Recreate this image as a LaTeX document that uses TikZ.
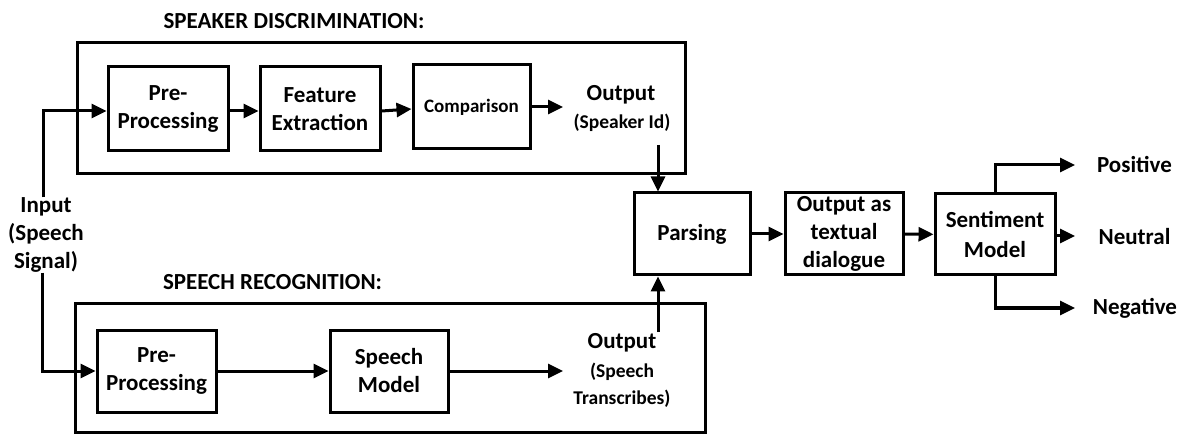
\documentclass[tikz,border=0pt]{standalone}
\usepackage{fontspec}
\setmainfont{Carlito}
\usetikzlibrary{arrows.meta}
\begin{document}
\begin{tikzpicture}[x=1pt,y=-1pt,
  every node/.style={inner sep=0pt, font=\bfseries\fontsize{23}{28}\selectfont, align=center},
  box/.style={draw, line width=3pt, minimum width=120pt, minimum height=84pt},
  outer/.style={draw, line width=3pt},
  title/.style={font=\bfseries\fontsize{23}{26}\selectfont},
  small/.style={font=\bfseries\fontsize{19.5}{27}\selectfont},
  arr/.style={line width=3pt, -{Triangle[length=15pt,width=14pt]}}]
\useasboundingbox (0,0) rectangle (1182,435);
% ---------- speaker discrimination ----------
\node[title] (t1) at (294,21) {SPEAKER DISCRIMINATION:};
\node[outer, minimum width=608pt, minimum height=131pt] (sd) at (381,108.5) {};
\node[box] (pre1) at (168,109) {Pre-\\Processing};
\node[box] (feat) at (320,109) {Feature\\Extraction};
\node[box, minimum width=117pt, font=\bfseries\fontsize{19}{22}\selectfont] (comp) at (471.5,107) {Comparison};
\node (o1a) at (621,95) {Output};
\node[small] (o1b) at (622,123) {(Speaker Id)};
\coordinate (o1in) at (563,107);
\coordinate (o1out) at (658,145);
% ---------- input ----------
\node (in) at (46,235) {Input\\(Speech\\Signal)};
% ---------- speech recognition ----------
\node[title] (t2) at (272.5,282) {SPEECH RECOGNITION:};
\node[outer, minimum width=630pt, minimum height=128pt] (sr) at (390,368) {};
\node[box, minimum width=119pt, minimum height=82pt] (pre2) at (156.5,371) {Pre-\\Processing};
\node[box, minimum width=118pt, minimum height=82pt] (spm) at (389,371) {Speech\\Model};
\node (o2a) at (622,343) {Output};
\node[small] (o2b) at (622,385.5) {(Speech\\Transcribes)};
\coordinate (o2in) at (563,371);
\coordinate (o2out) at (658,332);
% ---------- right part ----------
\node[box, minimum width=116pt, minimum height=82pt] (parse) at (692,234) {Parsing};
\node[box, minimum width=118pt, minimum height=82pt] (otd) at (844,234) {Output as\\textual\\dialogue};
\node[box, minimum width=120pt, minimum height=81pt, font=\bfseries\fontsize{23}{30}\selectfont] (sent) at (995,234.5) {Sentiment\\Model};
\node (pos) at (1134.5,165) {Positive};
\node (neu) at (1134.5,237) {Neutral};
\node (neg) at (1135,308) {Negative};
\coordinate (posin) at (1075,165);
\coordinate (neuin) at (1075,236);
\coordinate (negin) at (1075,308);
% ---------- connectors ----------
\draw[arr] ([xshift=-3pt]in.north) |- ([yshift=-2pt]pre1.west);
\draw[arr] ([xshift=-4pt]in.south) |- (pre2.west);
\draw[arr] ([yshift=-2pt]pre1.east) -- ([yshift=-2pt]feat.west);
\draw[arr] ([yshift=-2pt]feat.east) -- ([yshift=-2pt]comp.west);
\draw[arr] (comp) -- (o1in);
\draw[arr] (o1out) -- (o1out |- parse.north);
\draw[arr] (pre2) -- (spm);
\draw[arr] (spm) -- (o2in);
\draw[arr] (o2out) -- (o2out |- parse.south);
\draw[arr] (parse) -- (otd);
\draw[arr] (otd) -- (sent);
\draw[arr] (sent.north) |- (posin);
\draw[arr] (sent.east |- neuin) -- (neuin);
\draw[arr] (sent.south) |- (negin);
\end{tikzpicture}
\end{document}
